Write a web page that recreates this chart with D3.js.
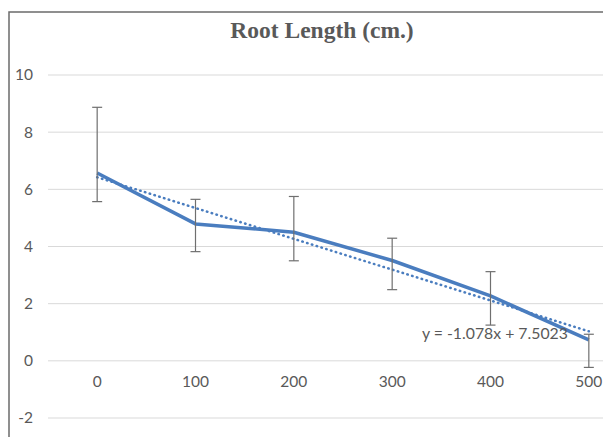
<!DOCTYPE html>
<html><head><meta charset="utf-8">
<script src="https://cdn.jsdelivr.net/npm/d3@7"></script>
<style>body{margin:0;background:#fff}svg{display:block}</style>
</head><body>
<script>
const categories = ["0","100","200","300","400","500"];
const values = [6.57, 4.79, 4.50, 3.51, 2.27, 0.73];
const errUpper = [8.87, 5.65, 5.75, 4.29, 3.12, 0.93];
const errLower = [5.57, 3.82, 3.50, 2.49, 1.25, -0.23];
const yTicks = [-2, 0, 2, 4, 6, 8, 10];
const trendSlope = -1.078, trendIntercept = 7.5023;
const trendLabel = "y = -1.078x + 7.5023";
const title = "Root Length (cm.)";

const W = 603, H = 437;
const FONT = "Lato, 'Open Sans', sans-serif";
const svg = d3.select("body").append("svg").attr("width", W).attr("height", H);

// chart border (extends beyond the cropped view)
svg.append("rect").attr("x", 9).attr("y", 12).attr("width", 628).attr("height", 460)
  .attr("fill", "#fff").attr("stroke", "#6b6b6b").attr("stroke-width", 1.5);

const x = d3.scaleBand().domain(categories).range([48, 638]);
const y = d3.scaleLinear().domain([-2, 10]).range([418, 75]);
const cx = c => x(c) + x.bandwidth() / 2;

// gridlines
svg.append("g").selectAll("line").data(yTicks).join("line")
  .attr("x1", 48).attr("x2", 640).attr("y1", d => y(d)).attr("y2", d => y(d))
  .attr("stroke", "#d9d9d9").attr("stroke-width", 1);

// y axis labels
const yAxis = d3.axisLeft(y).tickValues(yTicks).tickSize(0).tickPadding(0).tickFormat(d => String(d));
const ya = svg.append("g").attr("transform", "translate(33,0)").call(yAxis);
ya.select(".domain").remove();
ya.selectAll("text").attr("fill", "#595959").style("font-family", FONT).style("font-size", "15.5px");

// x axis labels at the 0 crossing
const xAxis = d3.axisBottom(x).tickSize(0).tickPadding(0);
const xa = svg.append("g").attr("transform", `translate(0,${y(0) + 15})`).call(xAxis);
xa.select(".domain").remove();
xa.selectAll("text").attr("fill", "#595959").style("font-family", FONT).style("font-size", "15.5px");

// title
svg.append("text").attr("x", 322).attr("y", 38).attr("text-anchor", "middle")
  .attr("fill", "#595959").style("font-family", "'Liberation Serif', 'Times New Roman', serif")
  .style("font-weight", "bold").style("font-size", "23.5px").text(title);

// data line
const line = d3.line().x((d, i) => cx(categories[i])).y(d => y(d));
svg.append("path").datum(values).attr("d", line).attr("fill", "none")
  .attr("stroke", "#4a7dbf").attr("stroke-width", 3.5).attr("stroke-linejoin", "round");

// trendline
const trend = categories.map((c, i) => trendSlope * (i + 1) + trendIntercept);
svg.append("path").datum(trend).attr("d", line).attr("fill", "none")
  .attr("stroke", "#4a7dbf").attr("stroke-width", 2.5).attr("stroke-dasharray", "0.5,4.5")
  .attr("stroke-linecap", "round");

// error bars
const eb = svg.append("g").attr("stroke", "#6f6f6f").attr("stroke-width", 1.2);
categories.forEach((c, i) => {
  const px = cx(c);
  eb.append("line").attr("x1", px).attr("x2", px).attr("y1", y(errUpper[i])).attr("y2", y(errLower[i]));
  eb.append("line").attr("x1", px - 5).attr("x2", px + 5).attr("y1", y(errUpper[i])).attr("y2", y(errUpper[i]));
  eb.append("line").attr("x1", px - 5).attr("x2", px + 5).attr("y1", y(errLower[i])).attr("y2", y(errLower[i]));
});

// trendline equation
svg.append("text").attr("x", 422).attr("y", 339).attr("fill", "#595959")
  .style("font-family", FONT).style("font-size", "15.8px").text(trendLabel);
</script>
</body></html>
